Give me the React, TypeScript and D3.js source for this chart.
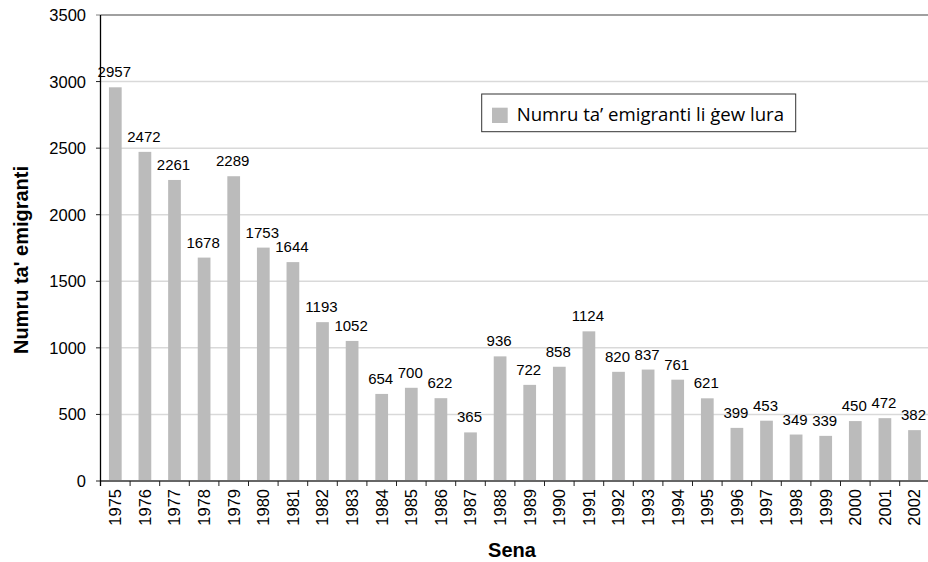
import React from "react";
import * as d3 from "d3";

const years: string[] = ["1975","1976","1977","1978","1979","1980","1981","1982","1983","1984","1985","1986","1987","1988","1989","1990","1991","1992","1993","1994","1995","1996","1997","1998","1999","2000","2001","2002"];
const emigrants: number[] = [2957,2472,2261,1678,2289,1753,1644,1193,1052,654,700,622,365,936,722,858,1124,820,837,761,621,399,453,349,339,450,472,382];
const yTicks: number[] = [0,500,1000,1500,2000,2500,3000,3500];
const legendLabel = "Numru ta’ emigranti li ġew lura";
const yTitle = "Numru ta' emigranti";
const xTitle = "Sena";

const W = 928, H = 562;
const left = 100.5, right = 929.3, top = 15, bottom = 481;

export default function App() {
  const x = d3.scaleBand<string>().domain(years).range([left, right]).padding(0);
  const y = d3.scaleLinear().domain([0, 3500]).range([bottom, top]);
  const bw = x.bandwidth() * 0.43;
  const font = "'Liberation Sans', Arial, sans-serif";
  return (
    <svg width={W} height={H} style={{ position: "absolute", left: 0, top: 0, background: "#fff" }} fontFamily={font}>
      {yTicks.map((t) => (
        <g key={t}>
          {t > 0 && (
            <line x1={left} x2={W} y1={y(t)} y2={y(t)} stroke={t === 3500 ? "#808080" : "#d9d9d9"} strokeWidth={t === 3500 ? 1.6 : 1.5} />
          )}
          <line x1={96} x2={left} y1={y(t)} y2={y(t)} stroke={t === 3500 ? "#808080" : "#222"} strokeWidth={1} />
          <text x={86} y={y(t)} dy="0.36em" textAnchor="end" fontSize={16.5} fill="#000">{t}</text>
        </g>
      ))}
      {emigrants.map((v, i) => {
        const cx = (x(years[i]) as number) + x.bandwidth() / 2;
        return (
          <g key={years[i]}>
            <rect x={cx - bw / 2} y={y(v)} width={bw} height={bottom - y(v)} fill="#bbbbbb" />
            <text x={cx - 1} y={y(v) - 10} textAnchor="middle" fontSize={15} fill="#000">{v}</text>
          </g>
        );
      })}
      <line x1={left} x2={W} y1={bottom} y2={bottom} stroke="#666" strokeWidth={2} />
      {years.map((yr) => (
        <line key={"t" + yr} x1={x(yr) as number} x2={x(yr) as number} y1={bottom} y2={bottom + 5} stroke="#222" strokeWidth={1} />
      ))}
      <line x1={left} x2={left} y1={top} y2={bottom + 5} stroke="#000" strokeWidth={1.3} />
      {years.map((yr) => {
        const cx = (x(yr) as number) + x.bandwidth() / 2;
        return (
          <text key={"l" + yr} transform={`translate(${cx},489) rotate(-90)`} textAnchor="end" dy="0.36em" fontSize={16.5} fill="#000">{yr}</text>
        );
      })}
      <text transform="translate(21,260) rotate(-90)" textAnchor="middle" dy="0.36em" fontSize={20} fontWeight="bold" fill="#000">{yTitle}</text>
      <text x={512} y={557} textAnchor="middle" fontSize={20} fontWeight="bold" fill="#000">{xTitle}</text>
      <rect x={481.7} y={94} width={314} height={37.7} fill="#fff" stroke="#333" strokeWidth={1} />
      <rect x={492} y={107.7} width={15.7} height={15.3} fill="#bbbbbb" />
      <text x={516.7} y={120.5} fontSize={18.6} fontFamily="'Open Sans', sans-serif" fill="#000">{legendLabel}</text>
    </svg>
  );
}
